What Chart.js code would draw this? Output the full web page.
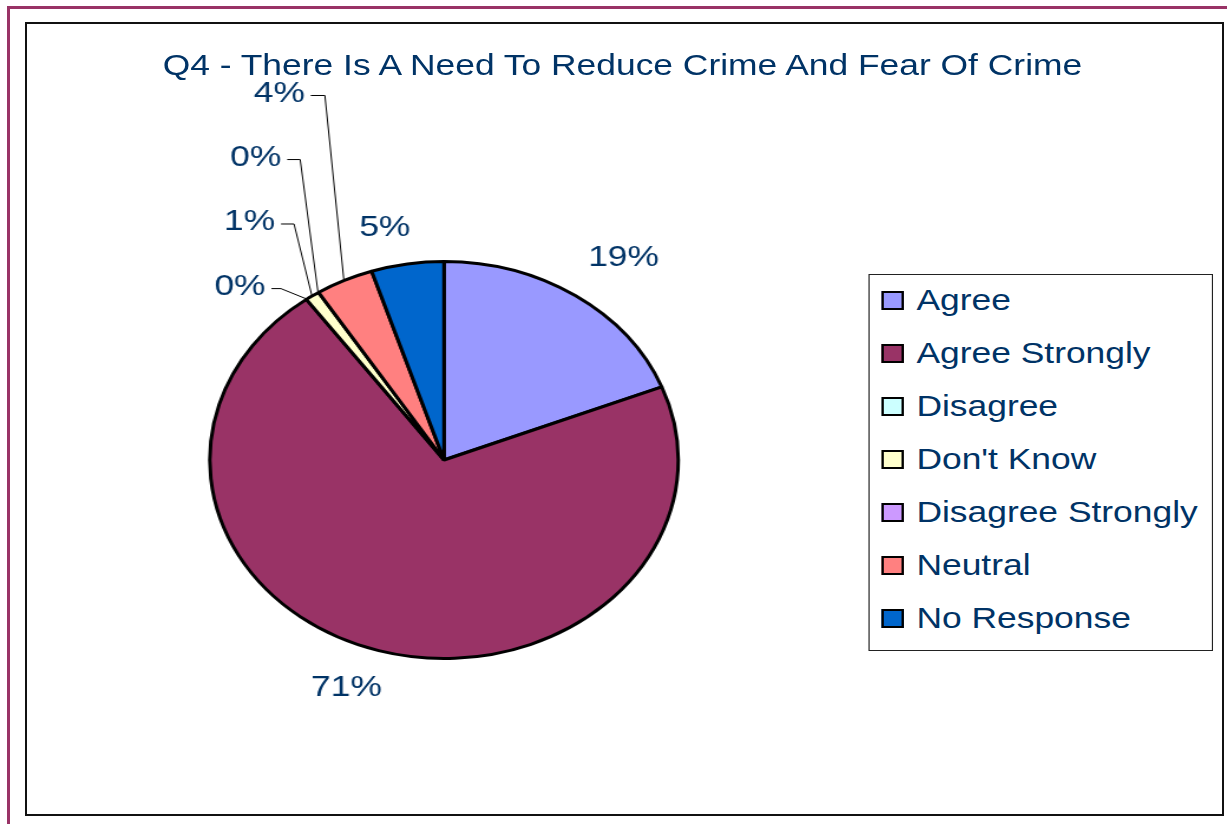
<!DOCTYPE html>
<html>
<head>
<meta charset="utf-8">
<script src="https://cdn.jsdelivr.net/npm/chart.js@4/dist/chart.umd.min.js"></script>
<style>
  html, body { margin: 0; padding: 0; background: #fff; overflow: hidden; }
  body { width: 1227px; height: 824px; position: relative; font-family: 'Liberation Sans', Arial, sans-serif; }
  .frame-top { position: absolute; left: 7px; top: 6px; width: 1220px; height: 3px; background: #993366; }
  .frame-left { position: absolute; left: 7px; top: 6px; width: 3px; height: 818px; background: #993366; }
  .plot-box { position: absolute; left: 25px; top: 22px; width: 1195px; height: 790px; border: 2px solid #111; box-sizing: content-box; }
  /* the whole chart is stretched sideways like the original picture */
  #stage { position: absolute; left: 0; top: 0; width: 1040px; height: 824px; transform: scaleX(1.18); transform-origin: 0 0; }
  #stage canvas { position: absolute; left: 0; top: 0; }
  #title { position: absolute; top: 45px; left: 527.5px; transform: translateX(-50%); white-space: nowrap;
           font-size: 30px; line-height: 40px; color: #003366; }
  #legend { position: absolute; left: 735.6px; top: 274px; width: 290px; height: 375px; border: 1px solid #222; background: #fff; }
  .item { position: absolute; left: 10px; height: 40px; display: flex; align-items: center; font-size: 30px; line-height: 40px; color: #003366; white-space: nowrap; }
  .swatch { width: 15px; height: 15px; border: 2px solid #000; margin-right: 11px; }
</style>
</head>
<body>
<div class="frame-top"></div>
<div class="frame-left"></div>
<div class="plot-box"></div>
<div id="stage">
  <canvas id="pieChart" width="1040" height="824"></canvas>
  <div id="title">Q4 - There Is A Need To Reduce Crime And Fear Of Crime</div>
  <div id="legend"></div>
</div>
<script>
var categories = ['Agree', 'Agree Strongly', 'Disagree', "Don't Know", 'Disagree Strongly', 'Neutral', 'No Response'];
var percentValues = [19, 71, 0, 1, 0, 4, 5];
var sliceColors = ['#9999FF', '#993366', '#CCFFFF', '#FFFFCC', '#CC99FF', '#FF8080', '#0066CC'];

// where each percentage label sits, relative to the slice's outer edge
// dx/dy = label centre; ex/ey = elbow of a leader line
var labelPlacement = [
  { dx: 40, dy: -37 },
  { dx: -27, dy: 36 },
  { ex: -21, ey: -10, tail: 8 },
  { ex: -15, ey: -71, tail: 11 },
  { ex: -15, ey: -132, tail: 11 },
  { ex: -16, ey: -184, tail: 12 },
  { dx: -19, dy: -35 }
];

var textColor = '#003366';
var labelFont = "30px 'Liberation Sans', Arial, sans-serif";

var pctLabels = {
  id: 'pctLabels',
  afterDatasetsDraw: function (chart) {
    var ctx = chart.ctx;
    var arcs = chart.getDatasetMeta(0).data;
    var values = chart.data.datasets[0].data;
    var total = values.reduce(function (a, b) { return a + b; }, 0);
    ctx.save();
    ctx.font = labelFont;
    ctx.fillStyle = textColor;
    ctx.strokeStyle = '#000';
    ctx.lineWidth = 1;
    arcs.forEach(function (arc, i) {
      var mid = (arc.startAngle + arc.endAngle) / 2;
      var r = arc.outerRadius + 1;
      var px = arc.x + Math.cos(mid) * r;
      var py = arc.y + Math.sin(mid) * r;
      var txt = Math.round(values[i] / total * 100) + '%';
      var p = labelPlacement[i];
      if (p.ex !== undefined) {
        var bx = px + p.ex, by = py + p.ey;
        ctx.beginPath();
        ctx.moveTo(px, py);
        ctx.lineTo(bx, by);
        ctx.lineTo(bx - p.tail, by);
        ctx.stroke();
        ctx.textAlign = 'right';
        ctx.textBaseline = 'middle';
        ctx.fillText(txt, bx - p.tail - 5, by - 2);
      } else {
        ctx.textAlign = 'center';
        ctx.textBaseline = 'middle';
        ctx.fillText(txt, px + p.dx, py + p.dy);
      }
    });
    ctx.restore();
  }
};

var ctx1 = document.getElementById('pieChart');
var pieChart = new Chart(ctx1, {
  type: 'pie',
  data: {
    labels: categories,
    datasets: [{
      data: percentValues,
      backgroundColor: sliceColors,
      borderColor: '#000',
      borderWidth: 3
    }]
  },
  options: {
    responsive: false,
    animation: false,
    radius: 198.5,
    layout: { padding: { left: 0, right: 287.4, top: 200, bottom: 104 } },
    plugins: {
      legend: { display: false },
      title: { display: false },
      tooltip: { enabled: false }
    }
  },
  plugins: [pctLabels]
});

// legend built from the same arrays
var legend = document.getElementById('legend');
categories.forEach(function (name, i) {
  var row = document.createElement('div');
  row.className = 'item';
  row.style.top = (5 + i * 53) + 'px';
  var sw = document.createElement('span');
  sw.className = 'swatch';
  sw.style.background = sliceColors[i];
  var label = document.createElement('span');
  label.textContent = name;
  row.appendChild(sw);
  row.appendChild(label);
  legend.appendChild(row);
});
</script>
</body>
</html>
